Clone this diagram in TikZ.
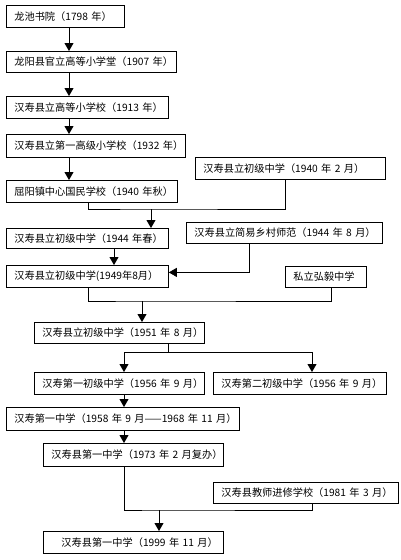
\documentclass[tikz,border=0pt]{standalone}
\usepackage{fontspec}
\setmainfont{Noto Sans CJK SC}
\usetikzlibrary{arrows.meta}

\begin{document}
\begin{tikzpicture}[x=1pt, y=-1pt,
    box/.style={draw, line width=.8pt, anchor=north west, inner xsep=8pt, inner ysep=0pt, align=left, font=\fontsize{10.2}{12}\selectfont},
    link/.style={line width=.8pt},
    arrow/.style={link, -{Triangle[width=9pt, length=8pt]}}]
    \useasboundingbox (0,0) rectangle (400,560);
    % schools, top to bottom
    \node[box, text width=102pt, minimum height=22pt] (longchi) at (6,5) {龙池书院（1798~年）};
    \node[box, text width=154pt, minimum height=21pt] (guanli) at (6,51) {龙阳县官立高等小学堂（1907~年）};
    \node[box, text width=146pt, minimum height=22pt] (gaodeng) at (6,96) {汉寿县立高等小学校（1913~年）};
    \node[box, text width=163pt, minimum height=23pt] (diyigao) at (6,134) {汉寿县立第一高级小学校（1932~年）};
    \node[box, text width=174pt, minimum height=22pt] (chuji40) at (195,157) {汉寿县立初级中学（1940~年~2~月）};
    \node[box, text width=155pt, minimum height=22pt] (guomin) at (6,180) {屈阳镇中心国民学校（1940~年秋）};
    \node[box, text width=146pt, minimum height=20pt] (chuji44) at (6,228) {汉寿县立初级中学（1944~年春）};
    \node[box, text width=180pt, minimum height=21pt] (shifan) at (186,222) {汉寿县立简易乡村师范（1944~年~8~月）};
    \node[box, text width=146pt, minimum height=22pt] (chuji49) at (6,265) {汉寿县立初级中学(1949年8月）};
    \node[box, text width=65pt, minimum height=21pt] (hongyi) at (285,266) {私立弘毅中学};
    \node[box, text width=154pt, minimum height=21pt] (chuji51) at (34,322) {汉寿县立初级中学（1951~年~8~月）};
    \node[box, text width=154pt, minimum height=22pt] (diyichu) at (34,372) {汉寿第一初级中学（1956~年~9~月）};
    \node[box, text width=157pt, minimum height=22pt] (dierchu) at (213,372) {汉寿第二初级中学（1956~年~9~月）};
    \node[box, text width=217pt, minimum height=23pt] (diyizhong) at (6,407) {\mbox{汉寿第一中学（1958~年~9~月——1968~年~11~月）}};
    \node[box, text width=164pt, minimum height=23pt] (fuban) at (43,443) {汉寿县第一中学（1973~年~2~月复办）};
    \node[box, text width=169pt, minimum height=21pt] (jinxiu) at (213,482) {汉寿县教师进修学校（1981~年~3~月）};
    \node[box, text width=164pt, minimum height=22pt] (yizhong) at (43,531) {\hspace*{10pt}汉寿县第一中学（1999~年~11~月）};
    % junctions
    \coordinate (j1) at (151,209);
    \coordinate (j2) at (142,301);
    \coordinate (j3) at (168,352);
    \coordinate (j4) at (159,510);
    % straight line of descent
    \draw[arrow] ([xshift=63pt]longchi.south west) -- ([xshift=63pt]guanli.north west);
    \draw[arrow] ([xshift=63pt]guanli.south west) -- ([xshift=63pt]gaodeng.north west);
    \draw[arrow] ([xshift=63pt]gaodeng.south west) -- ([xshift=63pt]diyigao.north west);
    \draw[arrow] ([xshift=63pt]diyigao.south west) -- ([xshift=63pt]guomin.north west);
    % merges and splits
    \draw[link] ([xshift=82pt]guomin.south west) |- (j1) -| ([xshift=90pt]chuji40.south west);
    \draw[arrow] (j1) -- (j1 |- chuji44.north);
    \draw[arrow] ([xshift=108pt]chuji44.south west) -- ([xshift=108pt]chuji49.north west);
    \draw[arrow] ([xshift=63pt]shifan.south west) |- ([yshift=4pt]chuji49.east);
    \draw[link] ([xshift=82pt]chuji49.south west) |- (j2) -| ([xshift=46pt]hongyi.south west);
    \draw[arrow] (j2) -- (j2 |- chuji51.north);
    \draw[link] ([xshift=134pt]chuji51.south west) -- (j3);
    \draw[arrow] (j3) -| ([xshift=90pt]diyichu.north west);
    \draw[arrow] (j3) -| ([xshift=99pt]dierchu.north west);
    \draw[arrow] ([xshift=90pt]diyichu.south west) -- ([xshift=118pt]diyizhong.north west);
    \draw[arrow] ([xshift=118pt]diyizhong.south west) -- ([xshift=81pt]fuban.north west);
    \draw[link] ([xshift=81pt]fuban.south west) |- (j4) -| ([xshift=99pt]jinxiu.south west);
    \draw[arrow] (j4) -- (j4 |- yizhong.north);
\end{tikzpicture}
\end{document}
